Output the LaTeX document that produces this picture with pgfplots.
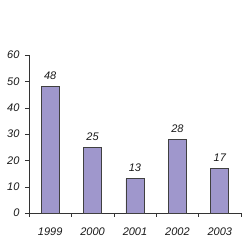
\documentclass[border=0pt]{standalone}
\usepackage{pgfplots}
\pgfplotsset{compat=1.18}
\usepackage{fontspec}
\setmainfont{Liberation Sans}
\definecolor{barfill}{HTML}{9F97CC}
\begin{document}
\begin{tikzpicture}
\path (-29pt,-33pt) rectangle (221pt,213pt);
\begin{axis}[
  at={(0,0)}, anchor=south west,
  scale only axis, width=212pt, height=158pt,
  xmin=-0.5, xmax=4.5, ymin=0, ymax=60,
  axis lines=left, axis line style={-, draw=black!80},
  ytick={0,10,...,60},
  yticklabels={0,10,20,30,40,50,60},
  xtick={0,...,4}, xticklabels={1999,2000,2001,2002,2003},
  minor xtick={-0.5,0.5,...,4.5},
  major x tick style={draw=none},
  tick align=outside, tick style={draw=black!80},
  major tick length=4pt, minor tick length=4pt,
  /pgf/number format/assume math mode=true,
  tick label style={font=\fontsize{11}{12}\selectfont\itshape, text=black!90},
  xticklabel style={yshift=-7pt},
  yticklabel style={xshift=-2pt},
  nodes near coords,
  nodes near coords style={font=\fontsize{11}{12}\selectfont\itshape, text=black!90, yshift=3pt},
  clip=false,
]
\addplot[ybar, bar width=18pt, fill=barfill, draw=black!75, line width=0.7pt]
  coordinates {(0,48) (1,25) (2,13) (3,28) (4,17)};
\end{axis}
\end{tikzpicture}
\end{document}
